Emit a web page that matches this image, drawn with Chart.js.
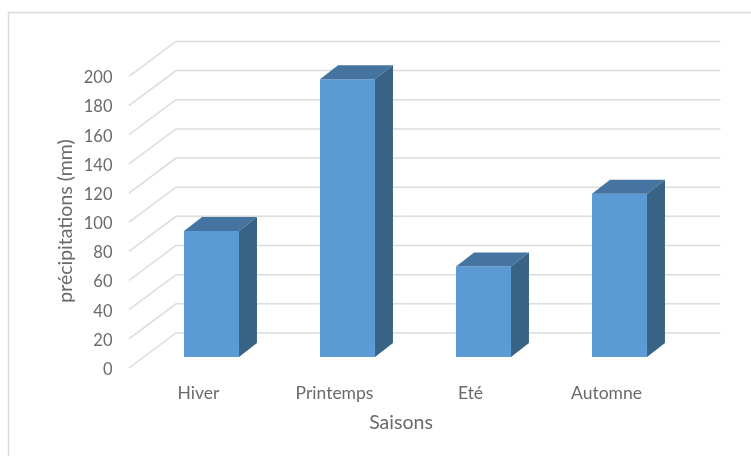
<!DOCTYPE html>
<html lang="fr">
<head>
    <meta charset="UTF-8">
    <title>Précipitations par saison</title>
    <style>
        body { margin: 0; background: #fff; }
        canvas { display: block; }
    </style>
    <script src="https://cdn.jsdelivr.net/npm/chart.js"></script>
</head>
<body>
    <canvas id="chart" width="751" height="456"></canvas>
    <script>
        const categories = ['Hiver', 'Printemps', 'Eté', 'Automne'];
        const precipitations = [86.5, 190.5, 62, 112];
        const yAxisTitle = 'précipitations (mm)';
        const xAxisTitle = 'Saisons';

        const textColor = '#6a6a6a';
        const fontFamily = 'Lato, sans-serif';
        const gridColor = '#dcdcdc';
        const depthX = 18; // bar depth on screen
        const depthY = 14;

        // fake 3D: walls and grid behind the bars, side and top faces on them
        const fake3d = {
            id: 'fake3d',
            beforeDraw(chart) {
                const ctx = chart.ctx;
                ctx.save();
                ctx.strokeStyle = '#d9d9d9';
                ctx.lineWidth = 1.5;
                ctx.beginPath();
                ctx.moveTo(8.5, 456);
                ctx.lineTo(8.5, 12.5);
                ctx.lineTo(751, 12.5);
                ctx.stroke();
                ctx.restore();
            },
            beforeDatasetsDraw(chart) {
                const ctx = chart.ctx;
                const area = chart.chartArea;
                const y = chart.scales.y;
                ctx.save();
                ctx.strokeStyle = gridColor;
                ctx.lineWidth = 1.5;
                y.ticks.forEach(t => {
                    const py = y.getPixelForValue(t.value);
                    ctx.beginPath();
                    ctx.moveTo(area.left - 14.5, py + 11);
                    ctx.lineTo(area.left + 32.5, py - 24);
                    ctx.lineTo(area.right + 33, py - 24);
                    ctx.stroke();
                });
                ctx.restore();
            },
            afterDatasetsDraw(chart) {
                const ctx = chart.ctx;
                ctx.save();
                chart.getDatasetMeta(0).data.forEach(bar => {
                    const p = bar.getProps(['x', 'y', 'base', 'width']);
                    const l = p.x - p.width / 2;
                    const r = p.x + p.width / 2;
                    ctx.fillStyle = '#44749f';
                    ctx.beginPath();
                    ctx.moveTo(l, p.y);
                    ctx.lineTo(l + depthX, p.y - depthY);
                    ctx.lineTo(r + depthX, p.y - depthY);
                    ctx.lineTo(r, p.y);
                    ctx.closePath();
                    ctx.fill();
                    ctx.fillStyle = '#386386';
                    ctx.beginPath();
                    ctx.moveTo(r, p.y);
                    ctx.lineTo(r + depthX, p.y - depthY);
                    ctx.lineTo(r + depthX, p.base - depthY);
                    ctx.lineTo(r, p.base);
                    ctx.closePath();
                    ctx.fill();
                });
                ctx.restore();
            },
            afterDraw(chart) {
                // axis titles sit off-centre in the original, so not the native ones
                const ctx = chart.ctx;
                ctx.save();
                ctx.fillStyle = textColor;
                ctx.font = '19.5px ' + fontFamily;
                ctx.textAlign = 'center';
                ctx.textBaseline = 'middle';
                ctx.fillText(xAxisTitle, 401, 423);
                ctx.translate(66, 221);
                ctx.rotate(-Math.PI / 2);
                ctx.fillText(yAxisTitle, 0, 0);
                ctx.restore();
            }
        };

        new Chart(document.getElementById('chart'), {
            type: 'bar',
            data: {
                labels: categories,
                datasets: [{
                    data: precipitations,
                    backgroundColor: '#5b9bd5',
                    categoryPercentage: 1,
                    barPercentage: 0.404
                }]
            },
            options: {
                responsive: false,
                animation: false,
                layout: { padding: { left: 0, right: 63.5, top: 65.4, bottom: 0 } },
                plugins: { legend: { display: false }, tooltip: { enabled: false } },
                scales: {
                    x: {
                        grid: { display: false },
                        border: { display: false },
                        ticks: {
                            color: textColor,
                            font: { family: fontFamily, size: 17.5 },
                            padding: 18,
                            labelOffset: -13,
                            maxRotation: 0
                        },
                        afterFit(scale) { scale.height = 99; }
                    },
                    y: {
                        min: 0,
                        max: 200,
                        grid: { display: false },
                        border: { display: false },
                        ticks: {
                            stepSize: 20,
                            color: textColor,
                            font: { family: fontFamily, size: 16.5 },
                            padding: 23,
                            labelOffset: 12.5
                        },
                        afterFit(scale) { scale.width = 143.5; }
                    }
                }
            },
            plugins: [fake3d]
        });
    </script>
</body>
</html>
